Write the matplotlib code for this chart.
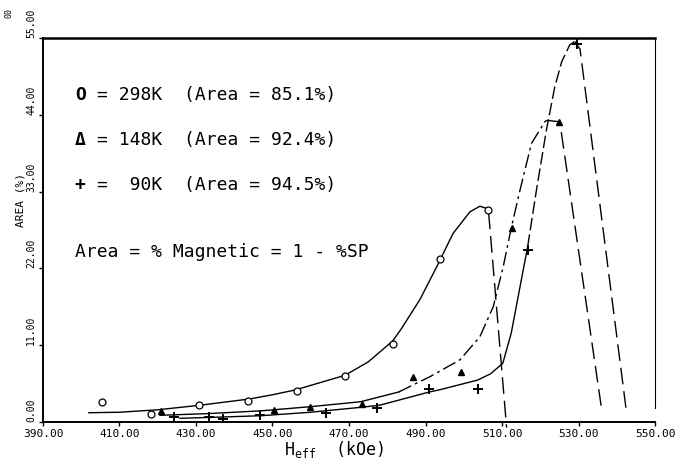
import matplotlib
matplotlib.use("Agg")
import matplotlib.pyplot as plt

plt.rcParams['font.family'] = ['DejaVu Sans Mono', 'DejaVu Sans']

# points measures (Heff en kOe, aire en %)
circle_x = [405.3, 418.2, 430.9, 443.7, 456.3, 468.9, 481.4, 493.8, 506.4]
circle_y = [2.8, 1.15, 2.4, 3.05, 4.5, 6.6, 11.2, 23.3, 30.3]

tri_x = [420.8, 450.3, 459.8, 473.3, 486.6, 499.2, 512.5, 524.9]
tri_y = [1.6, 1.7, 2.2, 2.6, 6.4, 7.2, 27.8, 42.9]

plus_x = [424.2, 433.5, 437.1, 446.7, 464.0, 477.4, 491.0, 503.8, 516.7, 529.5]
plus_y = [0.76, 0.67, 0.39, 1.0, 1.3, 1.96, 4.7, 4.7, 24.7, 54.2]

# courbes tracees a la main
c298_x = [402, 410, 420, 431, 444, 450, 456, 469, 475, 478, 481.4, 483.5, 488.5,
          492.9, 497.2, 501.6, 504.2, 506]
c298_y = [1.33, 1.4, 1.75, 2.4, 3.3, 3.9, 4.6, 6.7, 8.6, 10.0, 11.6, 13.2, 17.5,
          22.2, 27.0, 30.1, 30.9, 30.6]
d298_x = [506.5, 511.2]
d298_y = [30.0, -0.8]

c148_x = [420.6, 433, 447, 460, 473, 483]
c148_y = [0.96, 1.2, 1.6, 2.2, 2.9, 4.3]
e148_x = [483, 491.2, 499, 504.2, 507.7, 510.3, 512.5, 514.7, 517.7, 521.2, 521.7]
e148_y = [4.3, 6.5, 8.9, 12.2, 16.5, 22.2, 28.0, 33.2, 39.9, 43.0, 43.2]
d148_x = [521.7, 525.1, 536]
d148_y = [43.2, 43.0, 2.0]

c90_x = [425.8, 436, 447, 460, 473, 478, 491, 493.6, 503.6, 507, 510.2, 512.4,
         514.2, 516.7]
c90_y = [0.53, 0.7, 0.9, 1.4, 2.1, 2.4, 4.3, 4.6, 6.0, 6.9, 8.4, 12.7,
         17.9, 25.1]
e90_x = [516.7, 519, 521.6, 523.8, 525.6, 527.7, 529]
e90_y = [25.1, 33.2, 41.8, 48.0, 51.6, 54.0, 54.5]
d90_x = [529, 530.4, 542.4]
d90_y = [54.5, 53.4, 2.0]

xticks = [390, 410, 430, 450, 470, 490, 510, 530, 550]
yticks = [0, 11, 22, 33, 44, 55]

legend_syms = ["O", "\u0394", "+"]
legend_lines = ["= 298K  (Area = 85.1%)",
                "= 148K  (Area = 92.4%)",
                "=  90K  (Area = 94.5%)"]
note = "Area = % Magnetic = 1 - %SP"

fig = plt.figure(figsize=(6.9, 4.66), dpi=100)
ax = fig.add_axes([0.0623, 0.0944, 0.8870, 0.8241])

lw = 1.0
ax.plot(c298_x, c298_y, color='black', lw=lw)
ax.plot(d298_x, d298_y, color='black', lw=lw, dashes=(12, 5), clip_on=False)
ax.plot(c148_x, c148_y, color='black', lw=lw)
ax.plot(e148_x, e148_y, color='black', lw=lw, dashes=(10, 3, 2, 3))
ax.plot(d148_x, d148_y, color='black', lw=lw, dashes=(12, 5))
ax.plot(c90_x, c90_y, color='black', lw=lw)
ax.plot(e90_x, e90_y, color='black', lw=lw, dashes=(9, 3))
ax.plot(d90_x, d90_y, color='black', lw=lw, dashes=(12, 5))

ax.plot(circle_x, circle_y, 'o', ms=5, mfc='white', mec='black', mew=0.9)
ax.plot(tri_x, tri_y, '^', ms=4.5, color='black')
ax.plot(plus_x, plus_y, '+', ms=7, color='black', mew=1.4)

ax.set_xlim(390, 550)
ax.set_ylim(0, 55)
ax.set_xticks(xticks)
ax.set_xticklabels(["%.2f" % v for v in xticks], fontsize=8)
ax.set_yticks(yticks)
ax.set_yticklabels(["%.2f" % v for v in yticks], fontsize=7, rotation=90, va='bottom')
ax.tick_params(direction='out', length=3, width=1, pad=2)

ax.spines['left'].set_linewidth(1.4)
ax.spines['bottom'].set_linewidth(1.4)
ax.spines['top'].set_linewidth(1.8)
ax.spines['right'].set_linewidth(0.8)
ax.spines['right'].set_bounds(2, 55)

# largeur d'un caractere (police mono 13 pt) en fraction d'axe
cw = 13 * 0.602 * 100 / 72 / 612.0
for i, (sym, line) in enumerate(zip(legend_syms, legend_lines)):
    y = 0.852 - i * 0.117
    ax.text(0.052, y, sym, transform=ax.transAxes, fontsize=13,
            fontweight='bold', va='center', ha='left')
    ax.text(0.052 + 2 * cw, y, line, transform=ax.transAxes, fontsize=13,
            va='center', ha='left')
ax.text(0.052, 0.443, note, transform=ax.transAxes, fontsize=13,
        va='center', ha='left')

ax.text(0.475, -0.045, r'H$_{\mathregular{eff}}$  (kOe)', transform=ax.transAxes,
        fontsize=12, ha='center', va='top')
ax.text(-0.036, 0.578, 'AREA (%)', transform=ax.transAxes, fontsize=8,
        rotation=90, ha='center', va='center')
fig.text(0.013, 0.972, '00', fontsize=6, rotation=90, ha='center', va='center')

fig.savefig('out.png', dpi=100)
